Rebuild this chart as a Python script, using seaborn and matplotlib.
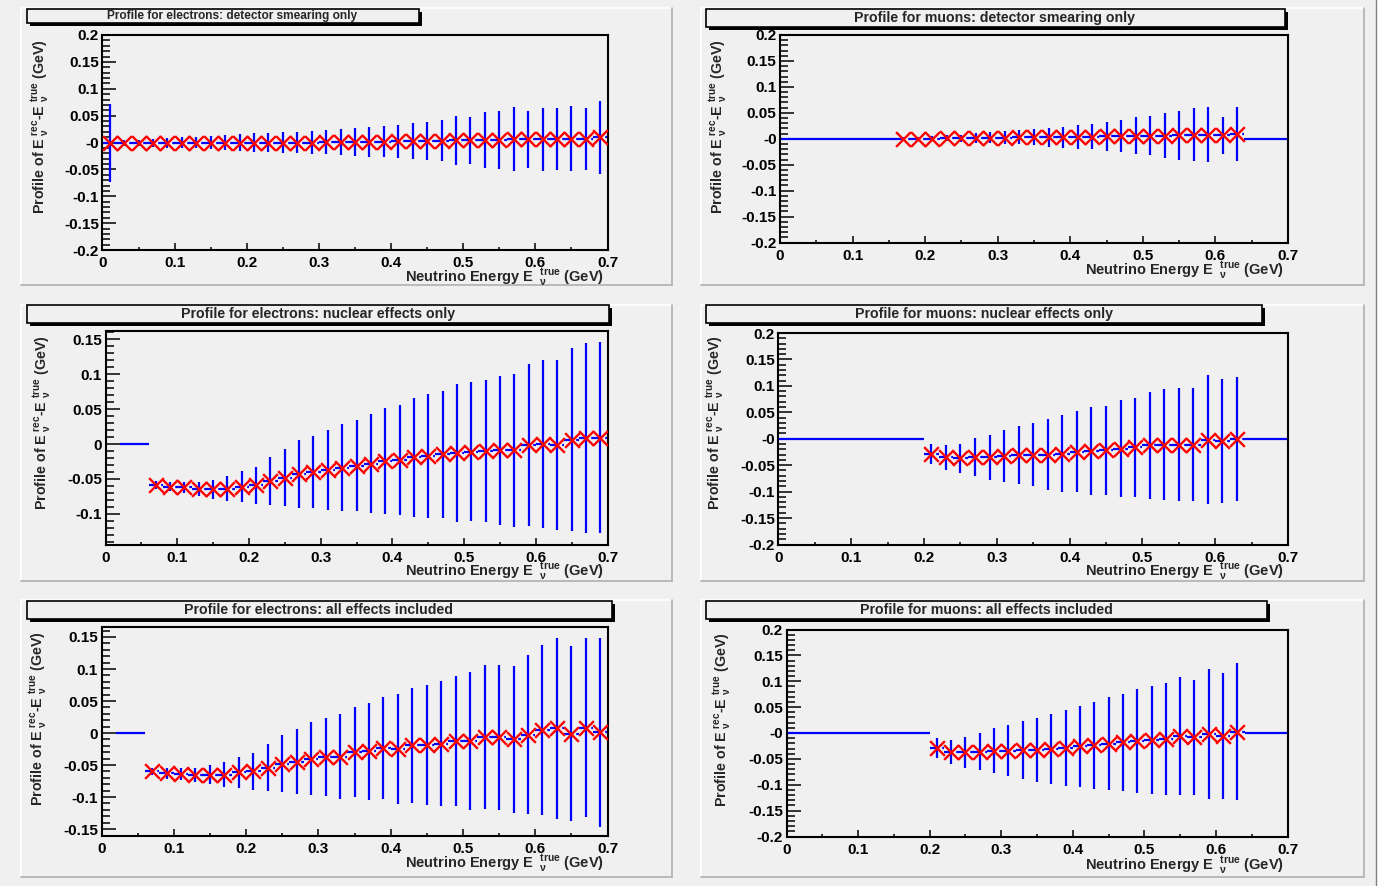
import numpy as np
import matplotlib
matplotlib.use("Agg")
import matplotlib.pyplot as plt
import seaborn as sns
from matplotlib.ticker import MultipleLocator, FixedLocator, FixedFormatter
from matplotlib.patches import Rectangle
from matplotlib.lines import Line2D
from matplotlib.path import Path

# ---------------- data (profile mean and spread per 0.02 GeV bin) ----------------
bin_width = 0.02

e_det_first = 0
e_det_mean = [-0.001, -0.001, -0.001, -0.001, -0.001, 0.000, 0.000, 0.000, 0.000, 0.000,
              0.000, 0.000, 0.000, 0.000, 0.000, 0.001, 0.001, 0.001, 0.001, 0.001,
              0.002, 0.002, 0.003, 0.003, 0.004, 0.004, 0.005, 0.005, 0.006, 0.006,
              0.006, 0.007, 0.007, 0.006, 0.010]
e_det_rms = [0.072, 0.005, 0.006, 0.007, 0.0087, 0.0103, 0.011, 0.0121, 0.0143, 0.0149,
             0.0168, 0.0177, 0.0187, 0.0202, 0.0218, 0.0227, 0.0249, 0.0264, 0.0274, 0.0289,
             0.0305, 0.0336, 0.0358, 0.0383, 0.0457, 0.0442, 0.0523, 0.0535, 0.0594, 0.0535,
             0.0585, 0.0575, 0.0607, 0.0575, 0.0681]

mu_det_first = 8
mu_det_mean = [0.000, 0.000, 0.000, 0.001, 0.001, 0.002, 0.002, 0.002, 0.003, 0.003,
               0.003, 0.003, 0.004, 0.004, 0.005, 0.005, 0.006, 0.006, 0.006, 0.007,
               0.008, 0.008, 0.0065, 0.0085]
mu_det_rms = [0.004, 0.004, 0.005, 0.006, 0.007, 0.0095, 0.011, 0.013, 0.014, 0.016,
              0.018, 0.020, 0.023, 0.024, 0.028, 0.031, 0.036, 0.038, 0.043, 0.047,
              0.051, 0.053, 0.035, 0.052]

e_nuc_first = 3
e_nuc_mean = [-0.059, -0.061, -0.062, -0.064, -0.065, -0.064, -0.061, -0.059, -0.053, -0.048,
              -0.043, -0.040, -0.037, -0.034, -0.031, -0.028, -0.025, -0.023, -0.019, -0.017,
              -0.015, -0.013, -0.011, -0.010, -0.009, -0.009, -0.001, 0.000, -0.001, 0.006,
              0.009, 0.009]
e_nuc_rms = [0.006, 0.007, 0.008, 0.010, 0.0136, 0.0175, 0.0217, 0.0265, 0.0344, 0.0404,
             0.0483, 0.0516, 0.0574, 0.0624, 0.0657, 0.0708, 0.076, 0.0793, 0.085, 0.089,
             0.091, 0.0994, 0.100, 0.1023, 0.107, 0.1095, 0.116, 0.1198, 0.1219, 0.131,
             0.136, 0.1367]

mu_nuc_first = 10
mu_nuc_mean = [-0.029, -0.035, -0.037, -0.034, -0.035, -0.032, -0.031, -0.030, -0.030, -0.028,
               -0.025, -0.023, -0.022, -0.019, -0.016, -0.012, -0.011, -0.011, -0.011, -0.002,
               -0.0045, -0.001]
mu_nuc_rms = [0.019, 0.0234, 0.028, 0.036, 0.0424, 0.049, 0.0554, 0.060, 0.0665, 0.072,
              0.0766, 0.0826, 0.0842, 0.092, 0.0937, 0.1013, 0.1047, 0.1073, 0.1066, 0.1218,
              0.117, 0.117]

e_all_first = 3
e_all_mean = [-0.060, -0.063, -0.064, -0.065, -0.065, -0.065, -0.0615, -0.060, -0.054, -0.048,
              -0.045, -0.040, -0.0376, -0.037, -0.030, -0.0287, -0.023, -0.025, -0.019, -0.019,
              -0.0167, -0.013, -0.012, -0.006, -0.0068, -0.0094, -0.0025, 0.005, 0.0075, -0.001,
              0.0085, 0.001]
e_all_rms = [0.006, 0.008, 0.009, 0.011, 0.0144, 0.019, 0.0237, 0.029, 0.0365, 0.0443,
             0.0506, 0.0566, 0.0608, 0.0662, 0.0704, 0.0757, 0.080, 0.0853, 0.0895, 0.0934,
             0.0978, 0.1017, 0.1075, 0.113, 0.1137, 0.1147, 0.1247, 0.1324, 0.141, 0.1367,
             0.1403, 0.147]

mu_all_first = 10
mu_all_mean = [-0.029, -0.036, -0.037, -0.036, -0.034, -0.034, -0.033, -0.033, -0.031, -0.029,
               -0.026, -0.024, -0.0205, -0.018, -0.0155, -0.0135, -0.0115, -0.0064, -0.0083, -0.002,
               -0.005, 0.0026]
mu_all_rms = [0.0195, 0.023, 0.030, 0.036, 0.0433, 0.0497, 0.0557, 0.0618, 0.0676, 0.0728,
              0.0782, 0.0833, 0.090, 0.0942, 0.100, 0.104, 0.108, 0.1138, 0.111, 0.1253,
              0.1218, 0.133]

# empty bins drawn at zero
e_det_empty = []
mu_det_empty = [(0.00, 0.16), (0.64, 0.70)]
e_nuc_empty = [(0.02, 0.06)]
mu_nuc_empty = [(0.00, 0.20), (0.64, 0.70)]
e_all_empty = [(0.02, 0.06)]
mu_all_empty = [(0.00, 0.20), (0.64, 0.70)]

titles = ["Profile for electrons: detector smearing only",
          "Profile for muons: detector smearing only",
          "Profile for electrons: nuclear effects only",
          "Profile for muons: nuclear effects only",
          "Profile for electrons: all effects included",
          "Profile for muons: all effects included"]

x_ticks = [0, 0.1, 0.2, 0.3, 0.4, 0.5, 0.6, 0.7]
x_ticklabels = ["0", "0.1", "0.2", "0.3", "0.4", "0.5", "0.6", "0.7"]
y_ticks_02 = [-0.2, -0.15, -0.1, -0.05, 0, 0.05, 0.1, 0.15, 0.2]
y_ticklabels_02 = ["-0.2", "-0.15", "-0.1", "-0.05", "-0", "0.05", "0.1", "0.15", "0.2"]
y_ticks_e_nuc = [-0.1, -0.05, 0, 0.05, 0.1, 0.15]
y_ticklabels_e_nuc = ["-0.1", "-0.05", "0", "0.05", "0.1", "0.15"]
y_ticks_e_all = [-0.15, -0.1, -0.05, 0, 0.05, 0.1, 0.15]
y_ticklabels_e_all = ["-0.15", "-0.1", "-0.05", "0", "0.05", "0.1", "0.15"]

y_label = r"Profile of E$\;{}_{\nu}^{rec}$-E$\;{}_{\nu}^{true}$ (GeV)"
x_label = r"Neutrino Energy E$\;\;{}_{\nu}^{true}$ (GeV)"

# ---------------- styling ----------------
W, H = 1379, 886
BG = "#f0f0f0"
BLUE = "#0000ff"
RED = "#ff0000"

sns.set_theme(style="ticks")
plt.rcParams["font.family"] = ["Liberation Sans", "DejaVu Sans"]
plt.rcParams["font.weight"] = "bold"
plt.rcParams["mathtext.fontset"] = "custom"
plt.rcParams["mathtext.rm"] = "Liberation Sans:bold"
plt.rcParams["mathtext.it"] = "Liberation Sans:bold"
plt.rcParams["mathtext.bf"] = "Liberation Sans:bold"
plt.rcParams["mathtext.sf"] = "Liberation Sans:bold"
plt.rcParams["mathtext.default"] = "rm"

fig = plt.figure(figsize=(W / 100, H / 100), dpi=100, facecolor=BG)

CROSS = Path([(-1, -1), (1, 1), (-1, 1), (1, -1)],
             [Path.MOVETO, Path.LINETO, Path.MOVETO, Path.LINETO])


def fx(x):
    return x / W


def fy(y):
    return 1 - y / H


# canvas right edge
fig.add_artist(Rectangle((fx(1376), 0), 1 - fx(1376), 1, transform=fig.transFigure,
                         facecolor="white", edgecolor="none", zorder=0))
fig.add_artist(Line2D([fx(1376), fx(1376)], [0, 1], transform=fig.transFigure,
                      color="#808080", lw=1.0))

# pads
pads = [(21, 8, 672, 285), (701, 8, 1364, 285),
        (21, 305, 672, 581), (701, 305, 1364, 581),
        (21, 600, 672, 877), (701, 600, 1364, 877)]
for (x0, y0, x1, y1) in pads:
    fig.add_artist(Line2D([fx(x0), fx(x1)], [fy(y0), fy(y0)], transform=fig.transFigure,
                          color="white", lw=1.2))
    fig.add_artist(Line2D([fx(x0), fx(x0)], [fy(y0), fy(y1)], transform=fig.transFigure,
                          color="white", lw=1.2))
    fig.add_artist(Line2D([fx(x0), fx(x1)], [fy(y1), fy(y1)], transform=fig.transFigure,
                          color="#b0b0b0", lw=1.2))
    fig.add_artist(Line2D([fx(x1), fx(x1)], [fy(y0), fy(y1)], transform=fig.transFigure,
                          color="#b0b0b0", lw=1.2))

panels = [
    dict(first=e_det_first, mean=e_det_mean, rms=e_det_rms, empty=e_det_empty,
         box=(102.5, 35, 607.5, 250), ylim=(-0.2, 0.2), yt=y_ticks_02, ytl=y_ticklabels_02,
         tbox=(27, 9, 419, 23), tcx=232, tfs=8.6, yl=(40, 39), xl=(604, 277)),
    dict(first=mu_det_first, mean=mu_det_mean, rms=mu_det_rms, empty=mu_det_empty,
         box=(780, 35, 1288, 242.5), ylim=(-0.2, 0.2), yt=y_ticks_02, ytl=y_ticklabels_02,
         tbox=(706, 9, 1285, 27), tcx=995, tfs=10.2, yl=(718, 39), xl=(1284, 270)),
    dict(first=e_nuc_first, mean=e_nuc_mean, rms=e_nuc_rms, empty=e_nuc_empty,
         box=(105.5, 331, 607.5, 544.5), ylim=(-0.144, 0.162), yt=y_ticks_e_nuc,
         ytl=y_ticklabels_e_nuc,
         tbox=(27, 305, 609, 323), tcx=318, tfs=10.2, yl=(42, 335), xl=(604, 571)),
    dict(first=mu_nuc_first, mean=mu_nuc_mean, rms=mu_nuc_rms, empty=mu_nuc_empty,
         box=(778.5, 333, 1288, 544.5), ylim=(-0.2, 0.2), yt=y_ticks_02, ytl=y_ticklabels_02,
         tbox=(706, 305, 1262, 323), tcx=984, tfs=10.2, yl=(715, 335), xl=(1284, 571)),
    dict(first=e_all_first, mean=e_all_mean, rms=e_all_rms, empty=e_all_empty,
         box=(101.5, 627, 607.5, 835.5), ylim=(-0.160, 0.1656), yt=y_ticks_e_all,
         ytl=y_ticklabels_e_all,
         tbox=(27, 601, 612, 619), tcx=319, tfs=10.2, yl=(38, 631), xl=(604, 862)),
    dict(first=mu_all_first, mean=mu_all_mean, rms=mu_all_rms, empty=mu_all_empty,
         box=(786.5, 629.5, 1287.5, 836.5), ylim=(-0.2, 0.2), yt=y_ticks_02, ytl=y_ticklabels_02,
         tbox=(706, 601, 1267, 619), tcx=986, tfs=10.2, yl=(722, 632), xl=(1284, 864)),
]

for p, title in zip(panels, titles):
    l, t, r, b = p["box"]
    ax = fig.add_axes([fx(l), fy(b), fx(r) - fx(l), fy(t) - fy(b)])
    ax.set_facecolor(BG)

    mean = np.array(p["mean"])
    rms = np.array(p["rms"])
    centers = bin_width * (p["first"] + np.arange(len(mean))) + bin_width / 2

    # vertical spread bars
    ax.vlines(centers, mean - rms, mean + rms, colors=BLUE, lw=1.6, zorder=2)
    # dashed bin-width bars at the mean
    ax.hlines(mean, centers - bin_width / 2, centers + bin_width / 2, colors=BLUE,
              lw=1.6, linestyles=(0, (3, 2.5)), zorder=2)
    # empty bins at zero
    for (a0, a1) in p["empty"]:
        ax.hlines(0, a0, a1, colors=BLUE, lw=1.6, zorder=2)
    # red cross markers (one bin wide)
    sns.scatterplot(x=centers, y=mean, marker=CROSS, s=10.6 ** 2, color=RED,
                    edgecolor=RED, linewidth=1.7, ax=ax, zorder=3, legend=False)

    ax.set_xlim(0, 0.7)
    ax.set_ylim(*p["ylim"])
    ax.xaxis.set_major_locator(FixedLocator(x_ticks))
    ax.xaxis.set_major_formatter(FixedFormatter(x_ticklabels))
    ax.xaxis.set_minor_locator(MultipleLocator(0.05))
    ax.yaxis.set_major_locator(FixedLocator(p["yt"]))
    ax.yaxis.set_major_formatter(FixedFormatter(p["ytl"]))
    ax.yaxis.set_minor_locator(MultipleLocator(0.01))
    ax.set_xlabel("")
    ax.set_ylabel("")
    ax.grid(False)

    for s in ax.spines.values():
        s.set_visible(True)
        s.set_linewidth(1.5)
        s.set_color("black")
    ax.tick_params(axis="both", which="both", direction="in", top=False, right=False,
                   width=1.1, color="black", labelcolor="black")
    ax.tick_params(axis="y", which="major", length=10, pad=2.5, labelsize=11)
    ax.tick_params(axis="y", which="minor", length=5.5)
    ax.tick_params(axis="x", which="major", length=5, pad=4.5, labelsize=11)
    ax.tick_params(axis="x", which="minor", length=2.5)

    # axis titles
    fig.text(fx(p["yl"][0]), fy(p["yl"][1]), y_label, rotation=90, ha="center", va="top",
             fontsize=10.3, fontweight="bold")
    fig.text(fx(p["xl"][0]), fy(p["xl"][1] + 5), x_label, ha="right", va="baseline",
             fontsize=10.5, fontweight="bold")

    # title box with shadow
    x0, y0, x1, y1 = p["tbox"]
    fig.add_artist(Rectangle((fx(x0 + 3), fy(y1 + 3)), fx(x1) - fx(x0), fy(y0) - fy(y1),
                             transform=fig.transFigure, facecolor="black",
                             edgecolor="none", zorder=5))
    fig.add_artist(Rectangle((fx(x0), fy(y1)), fx(x1) - fx(x0), fy(y0) - fy(y1),
                             transform=fig.transFigure, facecolor=BG,
                             edgecolor="black", lw=1.2, zorder=6))
    fig.text(fx(p["tcx"]), fy((y0 + y1) / 2), title, ha="center", va="center",
             fontsize=p["tfs"], fontweight="bold", zorder=7)

fig.savefig("out.png", dpi=100, facecolor=BG)
